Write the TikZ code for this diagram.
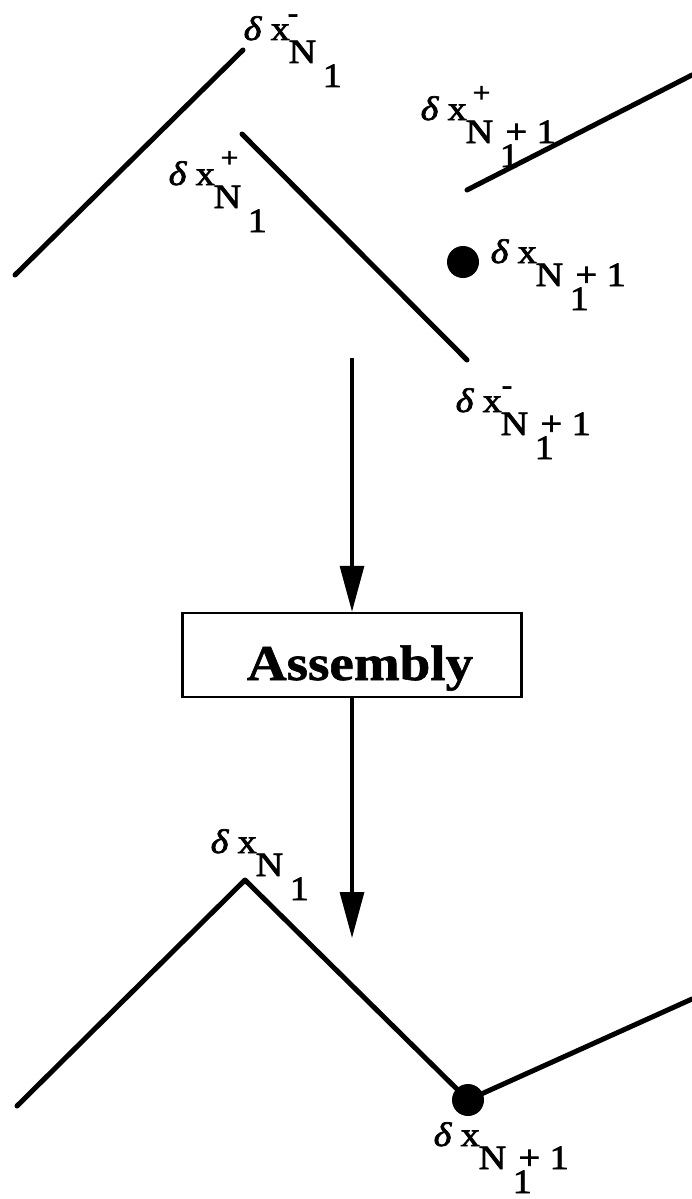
\documentclass[tikz,border=0pt]{standalone}
\usepackage{fontspec}
\usetikzlibrary{arrows.meta}
\setmainfont{Liberation Serif}
\newfontfamily\lblfont[FakeStretch=1.12, FakeBold=2.2]{Liberation Serif}
\newfontfamily\boxfont[FakeStretch=1.1, FakeBold=1.2]{Liberation Serif}

% delta x label: #1 = sign above (+ or -), #2 = horizontal offset of the sign,
% #3 = tail written after the subscript 1 at the level of N (e.g. "+ 1")
\newcommand\dxlab[3]{%
  \rlap{\itshape δ}%
  \rlap{\kern27pt x}%
  \rlap{\kern#2\raisebox{18pt}{\fontsize{28}{30}\selectfont #1}}%
  \rlap{\kern45pt\raisebox{-23pt}{N}}%
  \rlap{\kern79pt\raisebox{-47pt}{1}}%
  \rlap{\kern85pt\raisebox{-23pt}{#3}}}

\tikzset{
  seg/.style={line width=5pt, line cap=round, line join=round},
  lbl/.style={inner sep=0pt, anchor=base west, font=\lblfont\fontsize{34}{38}\selectfont},
  knot/.style={circle, fill=black, inner sep=0pt, minimum size=32pt},
  flow/.style={line width=3.2pt, -{Triangle[length=46pt, width=24pt]}},
  stagebox/.style={draw, line width=2.5pt, minimum width=339pt, minimum height=84pt, inner sep=0pt}
}

\begin{document}
\begin{tikzpicture}[x=1pt, y=-1pt]
  \useasboundingbox (0,0) rectangle (692,1199);

  % ---- separate element pieces ----
  \coordinate (a1) at (15,275);
  \coordinate (a2) at (243,50);
  \coordinate (b1) at (242,134);
  \coordinate (b2) at (467,360);
  \coordinate (c1) at (467,190);
  \coordinate (c2) at (692,75);
  \draw[seg] (a1) -- (a2);
  \draw[seg] (b1) -- (b2);
  \draw[seg] (c1) -- (c2);
  \node[knot] (p) at (463,262) {};

  \node[lbl] (la) at (243,40)  {\dxlab{-}{44pt}{}};
  \node[lbl] (lb) at (168,185) {\dxlab{+}{52pt}{}};
  \node[lbl] (lc) at (420,120) {\dxlab{+}{52pt}{+ 1}};
  \node[lbl] (lp) at (490,263) {\dxlab{}{0pt}{+ 1}};
  \node[lbl] (ld) at (455,412) {\dxlab{-}{46pt}{+ 1}};

  % ---- assembly step ----
  \coordinate (s0) at (352,358);
  \node[stagebox] (asm) at (352,655) {};
  \node[inner sep=0pt, anchor=base, font=\boxfont\bfseries\fontsize{50}{54}\selectfont]
    (asmtext) at (360,680) {Assembly};
  \coordinate (s1) at (352,938);
  \draw[flow] (s0) -- (asm.north);
  \draw[flow] (asm.south) -- (s1);

  % ---- assembled elements ----
  \coordinate (d1) at (17,1106);
  \coordinate (d2) at (245,880);
  \coordinate (d3) at (468,1100);
  \coordinate (d4) at (692,999);
  \draw[seg] (d1) -- (d2) -- (d3) -- (d4);
  \node[knot] (q) at (d3) {};

  \node[lbl] (le) at (210,853)  {\dxlab{}{0pt}{}};
  \node[lbl] (lf) at (433,1146) {\dxlab{}{0pt}{+ 1}};
\end{tikzpicture}
\end{document}
